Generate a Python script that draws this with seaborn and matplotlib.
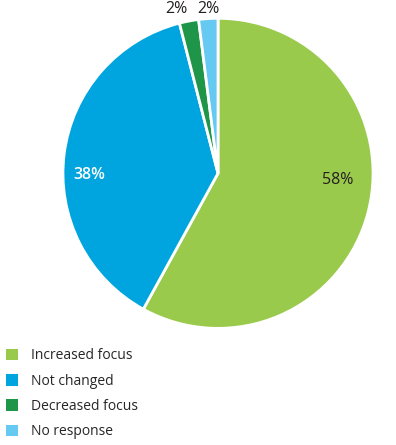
import matplotlib
matplotlib.use("Agg")
import matplotlib.pyplot as plt
from matplotlib.patches import Patch
import seaborn as sns
import numpy as np

categories = ["Increased focus", "Not changed", "Decreased focus", "No response"]
values = [58, 38, 2, 2]
labels = ["58%", "38%", "2%", "2%"]
colors = ["#9ACA4B", "#00A5E0", "#1E9548", "#66C9F1"]

sns.set_theme(style="white")
plt.rcParams["font.family"] = ["Open Sans", "DejaVu Sans"]

fig = plt.figure(figsize=(3.96, 4.45), dpi=100)
ax = fig.add_axes([0.159, 0.262, 0.783, 0.697])

wedges, _ = ax.pie(values, colors=colors, startangle=90, counterclock=False,
                   wedgeprops=dict(edgecolor="white", linewidth=2))
ax.set_xlim(-1, 1)
ax.set_ylim(-1, 1)
ax.set_aspect("equal")

# label positions (radius, angle in degrees)
pos = [(0.775, -3.0), (0.832, 180.9), (1.094, 104.3), (1.062, 93.5)]
txt_colors = ["#231F20", "white", "#231F20", "#231F20"]
for lab, (r, a), c in zip(labels, pos, txt_colors):
    t = np.deg2rad(a)
    ax.text(r * np.cos(t), r * np.sin(t), lab, ha="center", va="center",
            fontsize=11.5, color=c, fontweight="semibold" if c == "white" else "normal",
            clip_on=False)

handles = [Patch(facecolor=c, edgecolor="none") for c in colors]
fig.legend(handles, categories, loc="upper left", bbox_to_anchor=(0.0, 0.230),
           frameon=False, fontsize=10, handlelength=0.9, handleheight=0.9,
           handletextpad=0.9, labelspacing=0.75, borderaxespad=0.0)

fig.savefig("out.png", dpi=100)
plt.close()
